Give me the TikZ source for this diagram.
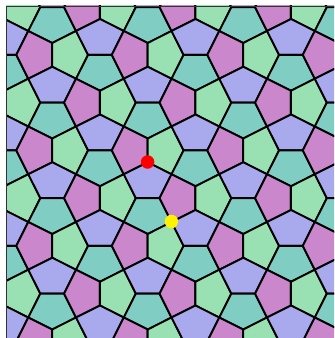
\documentclass[tikz,border=0pt]{standalone}
\usetikzlibrary{calc}
\definecolor{cup}{HTML}{A9A9EE}
\definecolor{cdown}{HTML}{7FCDC3}
\definecolor{cleft}{HTML}{CB87CB}
\definecolor{cright}{HTML}{99E1B3}
\tikzset{
  tile/.style={fill=#1, draw=black, line width=1.6pt, line join=round},
  dot/.style={circle, fill=#1, inner sep=0pt, minimum size=0.405cm},
  frame/.style={draw=black!80, line width=0.8pt},
}

\begin{document}
\begin{tikzpicture}[x=0.03cm, y=-0.03cm]
  \useasboundingbox (0,0) rectangle (334,338);
  % cairo tiling, one square of the lattice at a time
  \begin{scope}
    \clip (6,6) rectangle (334,338);
    \foreach \i in {-1,...,7}{
      \foreach \j in {-1,...,7}{
        \pgfmathsetmacro{\xl}{28.3+\i*47.75}
        \pgfmathsetmacro{\xc}{\xl+23.875}
        \pgfmathsetmacro{\xr}{\xl+47.75}
        \pgfmathsetmacro{\yt}{31+\j*47.75}
        \pgfmathsetmacro{\yc}{\yt+23.875}
        \pgfmathsetmacro{\yb}{\yt+47.75}
        \pgfmathtruncatemacro{\odd}{mod(\i+\j+4,2)}
        \ifnum\odd=0
          % vertical short edge: left and right pentagons
          \filldraw[tile=cleft] (\xc,\yt+12) -- (\xl,\yt) -- (\xl-12,\yc) -- (\xl,\yb) -- (\xc,\yb-12) -- cycle;
          \filldraw[tile=cright] (\xc,\yt+12) -- (\xr,\yt) -- (\xr+12,\yc) -- (\xr,\yb) -- (\xc,\yb-12) -- cycle;
        \else
          % horizontal short edge: up and down pentagons
          \filldraw[tile=cup] (\xl+12,\yc) -- (\xl,\yt) -- (\xc,\yt-12) -- (\xr,\yt) -- (\xr-12,\yc) -- cycle;
          \filldraw[tile=cdown] (\xl+12,\yc) -- (\xl,\yb) -- (\xc,\yb+12) -- (\xr,\yb) -- (\xr-12,\yc) -- cycle;
        \fi
      }
    }
  \end{scope}
  \draw[frame] (6,338) -- (6,6) -- (334,6);
  % marked points
  \node[dot=red] (reddot) at (147.6,162) {};
  \node[dot=yellow] (yellowdot) at (171.4,221.5) {};
\end{tikzpicture}
\end{document}
